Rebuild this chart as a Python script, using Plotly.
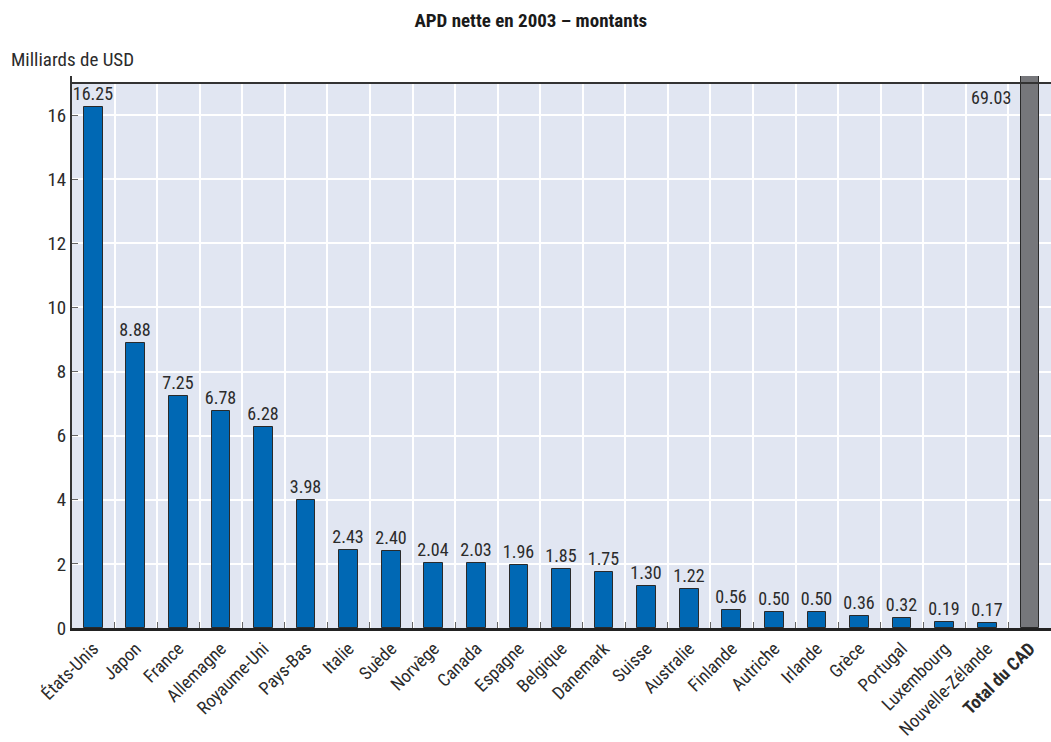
import plotly.graph_objects as go

# Net ODA 2003 by DAC donor, in billions of USD
countries = ["États-Unis", "Japon", "France", "Allemagne", "Royaume-Uni", "Pays-Bas",
             "Italie", "Suède", "Norvège", "Canada", "Espagne", "Belgique", "Danemark",
             "Suisse", "Australie", "Finlande", "Autriche", "Irlande", "Grèce", "Portugal",
             "Luxembourg", "Nouvelle-Zélande"]
country_values = [16.25, 8.88, 7.25, 6.78, 6.28, 3.98, 2.43, 2.40, 2.04, 2.03, 1.96,
                  1.85, 1.75, 1.30, 1.22, 0.56, 0.50, 0.50, 0.36, 0.32, 0.19, 0.17]
total_label = "Total du CAD"
total_value = 69.03
y_ticks = [0, 2, 4, 6, 8, 10, 12, 14, 16]
y_top = 17

FONT = "Liberation Sans Narrow, Arial Narrow, Roboto Condensed, Liberation Sans, sans-serif"
TEXT = "#2b2b2b"
BLUE = "#0068b4"
GREY = "#76777b"
BG = "#e1e6f2"

categories = countries + [total_label]
tick_text = countries + [f"<b>{total_label}</b>"]

fig = go.Figure()
fig.add_trace(go.Bar(
    x=countries, y=country_values,
    marker=dict(color=BLUE, line=dict(color="#2a2a2a", width=1)),
    width=0.44,
    text=[f"{v:.2f}" for v in country_values],
    textposition="outside",
    constraintext="none",
    textfont=dict(family=FONT, size=18, color=TEXT),
    cliponaxis=False,
    hoverinfo="x+y",
))
fig.add_trace(go.Bar(
    x=[total_label], y=[total_value],
    marker=dict(color=GREY, line=dict(color="#2a2a2a", width=1)),
    width=0.42,
    hoverinfo="x+y",
))

# plot background up to the top of the frame, and the frame's top edge
fig.add_shape(type="rect", xref="paper", yref="y", x0=0, x1=1, y0=0, y1=y_top,
              fillcolor=BG, line_width=0, layer="below")
fig.add_shape(type="line", xref="paper", yref="y", x0=0, x1=1, y0=y_top, y1=y_top,
              line=dict(color="#333333", width=2))

fig.add_annotation(x=total_label, y=y_top, text=f"{total_value:.2f}", showarrow=False,
                   xanchor="right", yanchor="top", xshift=-17, yshift=-2,
                   font=dict(family=FONT, size=18, color=TEXT))
fig.add_annotation(xref="paper", yref="paper", x=-0.064, y=1.005, text="Milliards de USD",
                   showarrow=False, xanchor="left", yanchor="bottom",
                   font=dict(family=FONT, size=19, color=TEXT))

fig.update_layout(
    width=1051, height=742,
    margin=dict(l=72, r=0, t=76, b=114),
    paper_bgcolor="white", plot_bgcolor="white",
    showlegend=False, bargap=0,
    title=dict(text="<b>APD nette en 2003 – montants</b>", x=0.505, xanchor="center",
               y=0.973, yanchor="middle",
               font=dict(family=FONT, size=19, color="#1a1a1a")),
    font=dict(family=FONT, color=TEXT),
)
fig.update_xaxes(
    categoryorder="array", categoryarray=categories,
    tickmode="array", tickvals=categories, ticktext=tick_text,
    tickangle=-45, tickfont=dict(family=FONT, size=18, color=TEXT),
    tickson="boundaries", ticks="inside", ticklen=6, tickcolor="#666666",
    showgrid=True, gridcolor="white", gridwidth=1.5,
    showline=True, linecolor="#222222", linewidth=3,
    range=[-0.5, len(categories) - 0.5],
)
fig.update_yaxes(
    range=[0, 17.22], tickvals=y_ticks,
    tickfont=dict(family=FONT, size=19, color=TEXT),
    ticks="inside", ticklen=6, tickcolor="#666666",
    showgrid=True, gridcolor="white", gridwidth=1.5,
    showline=True, linecolor="#333333", linewidth=2,
    zeroline=False,
)

fig.write_html("out.html")
